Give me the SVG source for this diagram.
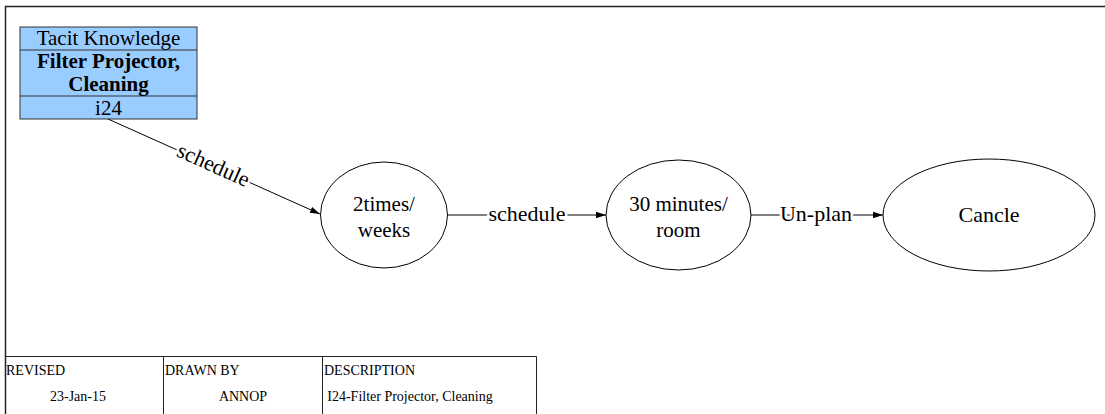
<svg xmlns="http://www.w3.org/2000/svg" width="1105" height="414" viewBox="0 0 1105 414">
  <style>
    text { font-family: "Liberation Serif", "Times New Roman", serif; fill: #000; }
    .node { fill: none; stroke: #000; stroke-width: 1; }
    .lbl { font-size: 21px; text-anchor: middle; }
    .big { font-size: 22px; }
    .edge { stroke: #000; stroke-width: 1; fill: none; marker-end: url(#arrow); }
    .halo { stroke: #fff; stroke-width: 5; paint-order: stroke; }
    .frame { stroke: #222; stroke-width: 1.5; fill: none; }
    .tbl { font-size: 14px; }
  </style>
  <defs>
    <marker id="arrow" viewBox="0 0 10 10" refX="10" refY="5" markerWidth="10" markerHeight="10" markerUnits="userSpaceOnUse" orient="auto">
      <path d="M0,1.8 L10,5 L0,8.2 Z" fill="#000"/>
    </marker>
  </defs>
  <rect width="1105" height="414" fill="#fff"/>

  <!-- drawing frame -->
  <path class="frame" d="M5.5,414 V6.5 H1105"/>

  <!-- title block -->
  <g id="title-block">
    <path d="M5.5,356.5 H536.5 V414 M163.5,356.5 V414 M322.5,356.5 V414" stroke="#222" stroke-width="1" fill="none"/>
    <text class="tbl" x="6" y="375">REVISED</text>
    <text class="tbl" x="165" y="375">DRAWN BY</text>
    <text class="tbl" x="324" y="375">DESCRIPTION</text>
    <text class="tbl" x="78" y="401" text-anchor="middle">23-Jan-15</text>
    <text class="tbl" x="243" y="401" text-anchor="middle">ANNOP</text>
    <text class="tbl" x="410" y="401" text-anchor="middle">I24-Filter Projector, Cleaning</text>
  </g>

  <!-- knowledge record -->
  <g id="i24">
    <rect x="20" y="27" width="177" height="92" fill="#99ccff" stroke="#333" stroke-width="1"/>
    <path d="M20,50 H197 M20,96 H197" stroke="#333" stroke-width="1"/>
    <text class="lbl" x="108.5" y="45">Tacit Knowledge</text>
    <text class="lbl" x="108.5" y="67.5" font-weight="bold">Filter Projector,</text>
    <text class="lbl" x="108.5" y="91" font-weight="bold">Cleaning</text>
    <text class="lbl" x="108.5" y="115">i24</text>
  </g>

  <g id="n-2times">
    <ellipse class="node" cx="384" cy="215" rx="63.5" ry="53"/>
    <text class="lbl" x="384" y="211">2times/</text>
    <text class="lbl" x="384" y="237">weeks</text>
  </g>

  <g id="n-30min">
    <ellipse class="node" cx="678.5" cy="215" rx="72.5" ry="55"/>
    <text class="lbl" x="678.5" y="211">30 minutes/</text>
    <text class="lbl" x="678.5" y="237">room</text>
  </g>

  <g id="n-cancle">
    <ellipse class="node" cx="989" cy="215" rx="106" ry="56"/>
    <text class="lbl big" x="989" y="222">Cancle</text>
  </g>

  <g id="connectors">
    <line class="edge" x1="108" y1="119" x2="320" y2="214"/>
    <text class="lbl big halo" transform="translate(213,166) rotate(24.1)" y="6">schedule</text>
    <line class="edge" x1="447.5" y1="215" x2="606" y2="215"/>
    <text class="lbl big halo" x="527" y="221">schedule</text>
    <line class="edge" x1="751" y1="215" x2="883" y2="215"/>
    <text class="lbl big halo" x="816" y="221">Un-plan</text>
  </g>
</svg>
